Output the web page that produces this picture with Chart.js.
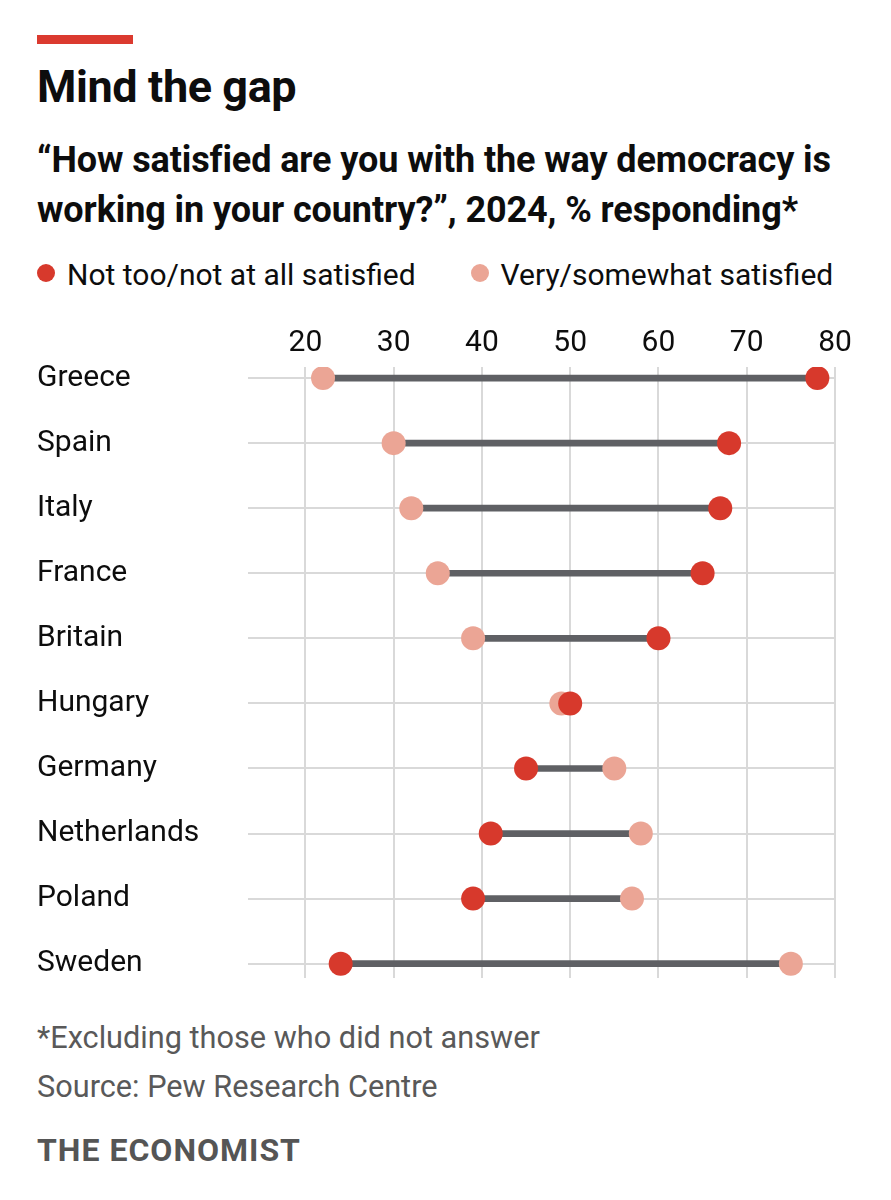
<!DOCTYPE html>
<html>
<head>
<meta charset="utf-8">
<script src="https://cdn.jsdelivr.net/npm/chart.js@4"></script>
<style>
  body { margin: 0; background: #fff; font-family: Roboto, "Liberation Sans", sans-serif; color: #0d0d0d; }
  #page { position: relative; width: 891px; height: 1200px; overflow: hidden; }
  .abs { position: absolute; left: 37px; white-space: nowrap; }
  #redbar { top: 35px; width: 96px; height: 9px; background: #db3a2f; }
  #title { top: 60px; font-size: 45px; font-weight: 700; line-height: 54px; letter-spacing: -0.4px; }
  #subtitle { top: 135px; font-size: 36px; font-weight: 700; line-height: 50px; letter-spacing: -0.1px; }
  #legend { top: 256px; font-size: 30px; line-height: 38px; }
  #legend span.dot { display: inline-block; width: 18px; height: 18px; border-radius: 50%; vertical-align: 3px; margin-right: 12px; }
  #legend span.item { margin-right: 55px; }
  #chartbox { position: absolute; left: 0; top: 320px; width: 891px; height: 670px; }
  .foot { color: #595959; font-size: 30.7px; line-height: 38px; }
  #note { top: 1019px; }
  #source { top: 1068px; }
  #brand { top: 1131px; font-size: 32px; font-weight: 700; color: #555; letter-spacing: 1px; }
</style>
</head>
<body>
<div id="page">
  <div id="redbar" class="abs"></div>
  <div id="title" class="abs">Mind the gap</div>
  <div id="subtitle" class="abs">“How satisfied are you with the way democracy is<br>working in your country?”, 2024, % responding*</div>
  <div id="legend" class="abs"><span class="item"><span class="dot" style="background:#d7392c"></span>Not too/not at all satisfied</span><span><span class="dot" style="background:#eba595"></span>Very/somewhat satisfied</span></div>
  <div id="chartbox"><canvas id="chart"></canvas></div>
  <div id="note" class="abs foot">*Excluding those who did not answer</div>
  <div id="source" class="abs foot">Source: Pew Research Centre</div>
  <div id="brand" class="abs foot">THE ECONOMIST</div>
</div>
<script>
const countries = ["Greece", "Spain", "Italy", "France", "Britain", "Hungary", "Germany", "Netherlands", "Poland", "Sweden"];
const notSatisfied = [78, 68, 67, 65, 60, 50, 45, 41, 39, 24];
const satisfied = [22, 30, 32, 35, 39, 49, 55, 58, 57, 75];
const xTicks = [20, 30, 40, 50, 60, 70, 80];

const darkRed = "#d7392c";
const lightRed = "#eba595";
const gridColor = "#d9d9d9";
const font = { family: "Roboto, 'Liberation Sans', sans-serif", size: 30 };

const gaps = countries.map((c, i) => ({
  x: [Math.min(notSatisfied[i], satisfied[i]), Math.max(notSatisfied[i], satisfied[i])],
  y: i,
}));
const darkPts = countries.map((c, i) => ({ x: notSatisfied[i], y: i }));
const lightPts = countries.map((c, i) => ({ x: satisfied[i], y: i }));

new Chart(document.getElementById("chart"), {
  type: "bar",
  data: {
    datasets: [
      {
        type: "bar",
        data: gaps,
        backgroundColor: "#5f6064",
        barThickness: 6,
        order: 3,
      },
      {
        type: "scatter",
        data: lightPts,
        backgroundColor: lightRed,
        borderWidth: 0,
        pointRadius: 12,
        order: 2,
      },
      {
        type: "scatter",
        data: darkPts,
        backgroundColor: darkRed,
        borderWidth: 0,
        pointRadius: 12,
        order: 1,
      },
    ],
  },
  options: {
    indexAxis: "y",
    responsive: true,
    maintainAspectRatio: false,
    animation: false,
    layout: { padding: { left: 37, right: 56, top: 0, bottom: 0 } },
    plugins: { legend: { display: false }, tooltip: { enabled: false } },
    scales: {
      x: {
        type: "linear",
        position: "top",
        min: 13.5,
        max: 80,
        afterBuildTicks: (s) => { s.ticks = xTicks.map((v) => ({ value: v })); },
        afterFit: (s) => { s.height = 47; s.paddingLeft = 0; s.paddingRight = 0; },
        grid: { color: gridColor, lineWidth: 2, drawTicks: false },
        border: { display: false },
        ticks: { font, color: "#0d0d0d", padding: 6 },
      },
      y: {
        type: "linear",
        reverse: true,
        min: -0.17,
        max: 9.22,
        offset: false,
        afterBuildTicks: (s) => { s.ticks = countries.map((c, i) => ({ value: i })); },
        afterFit: (s) => { s.width = 211; s.paddingTop = 0; s.paddingBottom = 0; },
        grid: { color: gridColor, lineWidth: 2, drawTicks: false, offset: false },
        border: { display: false },
        ticks: {
          font,
          color: "#0d0d0d",
          padding: 0,
          crossAlign: "far",
          callback: (v) => countries[v],
        },
      },
    },
  },
});
</script>
</body>
</html>
